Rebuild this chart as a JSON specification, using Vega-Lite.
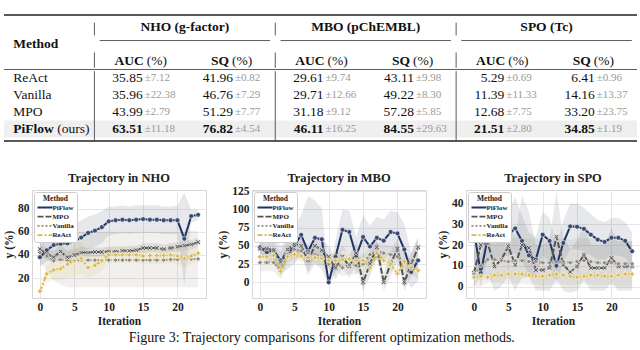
{
  "$schema": "https://vega.github.io/schema/vega-lite/v6.json",
  "background": "white",
  "padding": {"left": 3, "top": 14, "right": 0, "bottom": 0},
  "title": {"text": "Figure 3: Trajectory comparisons for different optimization methods.", "orient": "bottom", "anchor": "middle", "frame": "bounds", "font": "Liberation Serif", "fontSize": 14, "fontWeight": "normal", "color": "#111111", "offset": 3},
  "spacing": 29,
  "datasets": {
    "cells": [
      {"method": "ReAct", "row": 4, "col": 1, "mean": "35.85", "sd": "±7.12"},
      {"method": "ReAct", "row": 4, "col": 2, "mean": "41.96", "sd": "±0.82"},
      {"method": "ReAct", "row": 4, "col": 3, "mean": "29.61", "sd": "±9.74"},
      {"method": "ReAct", "row": 4, "col": 4, "mean": "43.11", "sd": "±9.98"},
      {"method": "ReAct", "row": 4, "col": 5, "mean": "5.29", "sd": "±0.69"},
      {"method": "ReAct", "row": 4, "col": 6, "mean": "6.41", "sd": "±0.96"},
      {"method": "Vanilla", "row": 5, "col": 1, "mean": "35.96", "sd": "±22.38"},
      {"method": "Vanilla", "row": 5, "col": 2, "mean": "46.76", "sd": "±7.29"},
      {"method": "Vanilla", "row": 5, "col": 3, "mean": "29.71", "sd": "±12.66"},
      {"method": "Vanilla", "row": 5, "col": 4, "mean": "49.22", "sd": "±8.30"},
      {"method": "Vanilla", "row": 5, "col": 5, "mean": "11.39", "sd": "±11.33"},
      {"method": "Vanilla", "row": 5, "col": 6, "mean": "14.16", "sd": "±13.37"},
      {"method": "MPO", "row": 6, "col": 1, "mean": "43.99", "sd": "±2.79"},
      {"method": "MPO", "row": 6, "col": 2, "mean": "51.29", "sd": "±7.77"},
      {"method": "MPO", "row": 6, "col": 3, "mean": "31.18", "sd": "±9.12"},
      {"method": "MPO", "row": 6, "col": 4, "mean": "57.28", "sd": "±5.85"},
      {"method": "MPO", "row": 6, "col": 5, "mean": "12.68", "sd": "±7.75"},
      {"method": "MPO", "row": 6, "col": 6, "mean": "33.20", "sd": "±23.75"},
      {"method": "PiFlow", "row": 7, "col": 1, "mean": "63.51", "sd": "±11.18"},
      {"method": "PiFlow", "row": 7, "col": 2, "mean": "76.82", "sd": "±4.54"},
      {"method": "PiFlow", "row": 7, "col": 3, "mean": "46.11", "sd": "±16.25"},
      {"method": "PiFlow", "row": 7, "col": 4, "mean": "84.55", "sd": "±29.63"},
      {"method": "PiFlow", "row": 7, "col": 5, "mean": "21.51", "sd": "±2.80"},
      {"method": "PiFlow", "row": 7, "col": 6, "mean": "34.85", "sd": "±1.19"}
    ],
    "rows": [
      {"method": "ReAct", "row": 4, "col": 0},
      {"method": "Vanilla", "row": 5, "col": 0},
      {"method": "MPO", "row": 6, "col": 0},
      {"method": "PiFlow", "row": 7, "col": 0}
    ],
    "groups": [
      {"g": "NHO (g-factor)", "c1": 1, "c2": 2},
      {"g": "MBO (pChEMBL)", "c1": 3, "c2": 4},
      {"g": "SPO (Tc)", "c1": 5, "c2": 6}
    ],
    "metrics": [
      {"metric": "AUC", "col": 1}, {"metric": "SQ", "col": 2},
      {"metric": "AUC", "col": 3}, {"metric": "SQ", "col": 4},
      {"metric": "AUC", "col": 5}, {"metric": "SQ", "col": 6}
    ],
    "seps": [{"col": 0}, {"col": 2}, {"col": 4}],
    "traj": [
      {"p":"NHO","m":"PiFlow","i":0,"v":38,"lo":30,"hi":46},
      {"p":"NHO","m":"PiFlow","i":1,"v":44,"lo":34,"hi":56},
      {"p":"NHO","m":"PiFlow","i":2,"v":48.5,"lo":36,"hi":62},
      {"p":"NHO","m":"PiFlow","i":3,"v":49.6,"lo":37,"hi":63},
      {"p":"NHO","m":"PiFlow","i":4,"v":50,"lo":37,"hi":64},
      {"p":"NHO","m":"PiFlow","i":5,"v":52,"lo":38,"hi":67},
      {"p":"NHO","m":"PiFlow","i":6,"v":55,"lo":40,"hi":70},
      {"p":"NHO","m":"PiFlow","i":7,"v":59,"lo":45,"hi":73},
      {"p":"NHO","m":"PiFlow","i":8,"v":61,"lo":47,"hi":75},
      {"p":"NHO","m":"PiFlow","i":9,"v":64,"lo":50,"hi":78},
      {"p":"NHO","m":"PiFlow","i":10,"v":69,"lo":57,"hi":82},
      {"p":"NHO","m":"PiFlow","i":11,"v":70,"lo":58,"hi":82},
      {"p":"NHO","m":"PiFlow","i":12,"v":70.5,"lo":59,"hi":83},
      {"p":"NHO","m":"PiFlow","i":13,"v":70,"lo":58,"hi":82},
      {"p":"NHO","m":"PiFlow","i":14,"v":70.5,"lo":59,"hi":83},
      {"p":"NHO","m":"PiFlow","i":15,"v":71,"lo":59,"hi":83},
      {"p":"NHO","m":"PiFlow","i":16,"v":70.5,"lo":59,"hi":83},
      {"p":"NHO","m":"PiFlow","i":17,"v":70.5,"lo":59,"hi":83},
      {"p":"NHO","m":"PiFlow","i":18,"v":70,"lo":58,"hi":82},
      {"p":"NHO","m":"PiFlow","i":19,"v":70,"lo":58,"hi":82},
      {"p":"NHO","m":"PiFlow","i":20,"v":70,"lo":58,"hi":83},
      {"p":"NHO","m":"PiFlow","i":21,"v":54,"lo":14,"hi":94},
      {"p":"NHO","m":"PiFlow","i":22,"v":73.6,"lo":68,"hi":79},
      {"p":"NHO","m":"PiFlow","i":23,"v":74.7,"lo":70,"hi":79},
      {"p":"NHO","m":"MPO","i":0,"v":45,"lo":38,"hi":52},
      {"p":"NHO","m":"MPO","i":1,"v":41,"lo":36,"hi":46},
      {"p":"NHO","m":"MPO","i":2,"v":38,"lo":33,"hi":43},
      {"p":"NHO","m":"MPO","i":3,"v":43,"lo":37,"hi":49},
      {"p":"NHO","m":"MPO","i":4,"v":38,"lo":33,"hi":43},
      {"p":"NHO","m":"MPO","i":5,"v":40,"lo":35,"hi":45},
      {"p":"NHO","m":"MPO","i":6,"v":42,"lo":37,"hi":47},
      {"p":"NHO","m":"MPO","i":7,"v":42,"lo":38,"hi":46},
      {"p":"NHO","m":"MPO","i":8,"v":42.5,"lo":38.5,"hi":46.5},
      {"p":"NHO","m":"MPO","i":9,"v":42.5,"lo":38.5,"hi":46.5},
      {"p":"NHO","m":"MPO","i":10,"v":43,"lo":39,"hi":47},
      {"p":"NHO","m":"MPO","i":11,"v":43,"lo":39,"hi":47},
      {"p":"NHO","m":"MPO","i":12,"v":43.5,"lo":39.5,"hi":47.5},
      {"p":"NHO","m":"MPO","i":13,"v":43.5,"lo":39.5,"hi":47.5},
      {"p":"NHO","m":"MPO","i":14,"v":44,"lo":40,"hi":48},
      {"p":"NHO","m":"MPO","i":15,"v":46,"lo":42,"hi":50},
      {"p":"NHO","m":"MPO","i":16,"v":46,"lo":42,"hi":50},
      {"p":"NHO","m":"MPO","i":17,"v":46,"lo":42,"hi":50},
      {"p":"NHO","m":"MPO","i":18,"v":45,"lo":41,"hi":49},
      {"p":"NHO","m":"MPO","i":19,"v":46,"lo":42,"hi":50},
      {"p":"NHO","m":"MPO","i":20,"v":47,"lo":43,"hi":51},
      {"p":"NHO","m":"MPO","i":21,"v":48,"lo":44,"hi":52},
      {"p":"NHO","m":"MPO","i":22,"v":49,"lo":45,"hi":53},
      {"p":"NHO","m":"MPO","i":23,"v":51,"lo":47,"hi":55},
      {"p":"NHO","m":"Vanilla","i":0,"v":42,"lo":34,"hi":50},
      {"p":"NHO","m":"Vanilla","i":1,"v":39,"lo":26,"hi":52},
      {"p":"NHO","m":"Vanilla","i":2,"v":35,"lo":18,"hi":54},
      {"p":"NHO","m":"Vanilla","i":3,"v":36,"lo":14,"hi":58},
      {"p":"NHO","m":"Vanilla","i":4,"v":35,"lo":12,"hi":60},
      {"p":"NHO","m":"Vanilla","i":5,"v":35,"lo":12,"hi":60},
      {"p":"NHO","m":"Vanilla","i":6,"v":35.5,"lo":12,"hi":60},
      {"p":"NHO","m":"Vanilla","i":7,"v":35.5,"lo":12,"hi":60},
      {"p":"NHO","m":"Vanilla","i":8,"v":35.5,"lo":12,"hi":60},
      {"p":"NHO","m":"Vanilla","i":9,"v":35.5,"lo":12,"hi":60},
      {"p":"NHO","m":"Vanilla","i":10,"v":35.5,"lo":12,"hi":60},
      {"p":"NHO","m":"Vanilla","i":11,"v":35.5,"lo":12,"hi":60},
      {"p":"NHO","m":"Vanilla","i":12,"v":35.5,"lo":12,"hi":60},
      {"p":"NHO","m":"Vanilla","i":13,"v":35.5,"lo":12,"hi":60},
      {"p":"NHO","m":"Vanilla","i":14,"v":35.5,"lo":12,"hi":60},
      {"p":"NHO","m":"Vanilla","i":15,"v":35.5,"lo":12,"hi":60},
      {"p":"NHO","m":"Vanilla","i":16,"v":35.5,"lo":12,"hi":60},
      {"p":"NHO","m":"Vanilla","i":17,"v":35.5,"lo":12,"hi":60},
      {"p":"NHO","m":"Vanilla","i":18,"v":35.5,"lo":12,"hi":60},
      {"p":"NHO","m":"Vanilla","i":19,"v":36,"lo":12,"hi":60},
      {"p":"NHO","m":"Vanilla","i":20,"v":36,"lo":12,"hi":60},
      {"p":"NHO","m":"Vanilla","i":21,"v":36,"lo":12,"hi":60},
      {"p":"NHO","m":"Vanilla","i":22,"v":36.5,"lo":12,"hi":61},
      {"p":"NHO","m":"Vanilla","i":23,"v":36.5,"lo":12,"hi":61},
      {"p":"NHO","m":"ReAct","i":0,"v":8.5,"lo":5,"hi":12},
      {"p":"NHO","m":"ReAct","i":1,"v":23.6,"lo":16,"hi":31},
      {"p":"NHO","m":"ReAct","i":2,"v":27,"lo":18,"hi":36},
      {"p":"NHO","m":"ReAct","i":3,"v":28,"lo":18,"hi":38},
      {"p":"NHO","m":"ReAct","i":4,"v":32,"lo":20,"hi":44},
      {"p":"NHO","m":"ReAct","i":5,"v":35,"lo":22,"hi":48},
      {"p":"NHO","m":"ReAct","i":6,"v":37,"lo":24,"hi":52},
      {"p":"NHO","m":"ReAct","i":7,"v":29,"lo":20,"hi":40},
      {"p":"NHO","m":"ReAct","i":8,"v":31,"lo":22,"hi":40},
      {"p":"NHO","m":"ReAct","i":9,"v":35,"lo":26,"hi":44},
      {"p":"NHO","m":"ReAct","i":10,"v":40,"lo":33,"hi":47},
      {"p":"NHO","m":"ReAct","i":11,"v":40,"lo":33,"hi":47},
      {"p":"NHO","m":"ReAct","i":12,"v":40,"lo":33,"hi":47},
      {"p":"NHO","m":"ReAct","i":13,"v":40,"lo":33,"hi":47},
      {"p":"NHO","m":"ReAct","i":14,"v":40,"lo":33,"hi":47},
      {"p":"NHO","m":"ReAct","i":15,"v":39,"lo":32,"hi":46},
      {"p":"NHO","m":"ReAct","i":16,"v":39.5,"lo":32,"hi":47},
      {"p":"NHO","m":"ReAct","i":17,"v":39.5,"lo":32,"hi":47},
      {"p":"NHO","m":"ReAct","i":18,"v":39.5,"lo":32,"hi":47},
      {"p":"NHO","m":"ReAct","i":19,"v":40,"lo":33,"hi":47},
      {"p":"NHO","m":"ReAct","i":20,"v":39,"lo":32,"hi":46},
      {"p":"NHO","m":"ReAct","i":21,"v":37,"lo":30,"hi":44},
      {"p":"NHO","m":"ReAct","i":22,"v":39,"lo":32,"hi":46},
      {"p":"NHO","m":"ReAct","i":23,"v":41.5,"lo":34,"hi":49},
      {"p":"MBO","m":"PiFlow","i":0,"v":48,"lo":40,"hi":56},
      {"p":"MBO","m":"PiFlow","i":1,"v":41,"lo":30,"hi":52},
      {"p":"MBO","m":"PiFlow","i":2,"v":44,"lo":26,"hi":62},
      {"p":"MBO","m":"PiFlow","i":3,"v":30,"lo":10,"hi":50},
      {"p":"MBO","m":"PiFlow","i":4,"v":38,"lo":18,"hi":58},
      {"p":"MBO","m":"PiFlow","i":5,"v":50,"lo":25,"hi":78},
      {"p":"MBO","m":"PiFlow","i":6,"v":65,"lo":40,"hi":92},
      {"p":"MBO","m":"PiFlow","i":7,"v":42,"lo":10,"hi":118},
      {"p":"MBO","m":"PiFlow","i":8,"v":61,"lo":25,"hi":112},
      {"p":"MBO","m":"PiFlow","i":9,"v":59,"lo":18,"hi":102},
      {"p":"MBO","m":"PiFlow","i":10,"v":0,"lo":-5,"hi":5},
      {"p":"MBO","m":"PiFlow","i":11,"v":35,"lo":12,"hi":58},
      {"p":"MBO","m":"PiFlow","i":12,"v":72,"lo":44,"hi":100},
      {"p":"MBO","m":"PiFlow","i":13,"v":69,"lo":40,"hi":98},
      {"p":"MBO","m":"PiFlow","i":14,"v":36,"lo":10,"hi":62},
      {"p":"MBO","m":"PiFlow","i":15,"v":62,"lo":34,"hi":92},
      {"p":"MBO","m":"PiFlow","i":16,"v":49,"lo":22,"hi":78},
      {"p":"MBO","m":"PiFlow","i":17,"v":61,"lo":32,"hi":90},
      {"p":"MBO","m":"PiFlow","i":18,"v":57,"lo":28,"hi":86},
      {"p":"MBO","m":"PiFlow","i":19,"v":69,"lo":42,"hi":98},
      {"p":"MBO","m":"PiFlow","i":20,"v":67,"lo":38,"hi":96},
      {"p":"MBO","m":"PiFlow","i":21,"v":45,"lo":12,"hi":80},
      {"p":"MBO","m":"PiFlow","i":22,"v":14,"lo":-8,"hi":40},
      {"p":"MBO","m":"PiFlow","i":23,"v":30,"lo":2,"hi":60},
      {"p":"MBO","m":"MPO","i":0,"v":46,"lo":38,"hi":54},
      {"p":"MBO","m":"MPO","i":1,"v":46,"lo":38,"hi":54},
      {"p":"MBO","m":"MPO","i":2,"v":44,"lo":34,"hi":54},
      {"p":"MBO","m":"MPO","i":3,"v":28,"lo":12,"hi":42},
      {"p":"MBO","m":"MPO","i":4,"v":45,"lo":32,"hi":58},
      {"p":"MBO","m":"MPO","i":5,"v":52,"lo":40,"hi":64},
      {"p":"MBO","m":"MPO","i":6,"v":50,"lo":38,"hi":62},
      {"p":"MBO","m":"MPO","i":7,"v":30,"lo":14,"hi":46},
      {"p":"MBO","m":"MPO","i":8,"v":50,"lo":36,"hi":64},
      {"p":"MBO","m":"MPO","i":9,"v":44,"lo":30,"hi":58},
      {"p":"MBO","m":"MPO","i":10,"v":35,"lo":20,"hi":50},
      {"p":"MBO","m":"MPO","i":11,"v":20,"lo":4,"hi":36},
      {"p":"MBO","m":"MPO","i":12,"v":35,"lo":20,"hi":50},
      {"p":"MBO","m":"MPO","i":13,"v":22,"lo":6,"hi":38},
      {"p":"MBO","m":"MPO","i":14,"v":40,"lo":24,"hi":56},
      {"p":"MBO","m":"MPO","i":15,"v":0,"lo":-12,"hi":12},
      {"p":"MBO","m":"MPO","i":16,"v":25,"lo":8,"hi":42},
      {"p":"MBO","m":"MPO","i":17,"v":48,"lo":34,"hi":62},
      {"p":"MBO","m":"MPO","i":18,"v":0,"lo":-12,"hi":12},
      {"p":"MBO","m":"MPO","i":19,"v":25,"lo":8,"hi":42},
      {"p":"MBO","m":"MPO","i":20,"v":46,"lo":32,"hi":60},
      {"p":"MBO","m":"MPO","i":21,"v":0,"lo":-12,"hi":12},
      {"p":"MBO","m":"MPO","i":22,"v":25,"lo":8,"hi":42},
      {"p":"MBO","m":"MPO","i":23,"v":48,"lo":34,"hi":62},
      {"p":"MBO","m":"Vanilla","i":0,"v":27,"lo":15,"hi":39},
      {"p":"MBO","m":"Vanilla","i":1,"v":27,"lo":15,"hi":39},
      {"p":"MBO","m":"Vanilla","i":2,"v":27,"lo":15,"hi":39},
      {"p":"MBO","m":"Vanilla","i":3,"v":17,"lo":5,"hi":29},
      {"p":"MBO","m":"Vanilla","i":4,"v":38,"lo":26,"hi":50},
      {"p":"MBO","m":"Vanilla","i":5,"v":45,"lo":33,"hi":57},
      {"p":"MBO","m":"Vanilla","i":6,"v":43,"lo":31,"hi":55},
      {"p":"MBO","m":"Vanilla","i":7,"v":40,"lo":28,"hi":52},
      {"p":"MBO","m":"Vanilla","i":8,"v":38,"lo":26,"hi":50},
      {"p":"MBO","m":"Vanilla","i":9,"v":36,"lo":24,"hi":48},
      {"p":"MBO","m":"Vanilla","i":10,"v":25,"lo":13,"hi":37},
      {"p":"MBO","m":"Vanilla","i":11,"v":28,"lo":16,"hi":40},
      {"p":"MBO","m":"Vanilla","i":12,"v":20,"lo":8,"hi":32},
      {"p":"MBO","m":"Vanilla","i":13,"v":24,"lo":12,"hi":36},
      {"p":"MBO","m":"Vanilla","i":14,"v":23,"lo":11,"hi":35},
      {"p":"MBO","m":"Vanilla","i":15,"v":25,"lo":13,"hi":37},
      {"p":"MBO","m":"Vanilla","i":16,"v":38,"lo":26,"hi":50},
      {"p":"MBO","m":"Vanilla","i":17,"v":42,"lo":30,"hi":54},
      {"p":"MBO","m":"Vanilla","i":18,"v":40,"lo":28,"hi":52},
      {"p":"MBO","m":"Vanilla","i":19,"v":38,"lo":26,"hi":50},
      {"p":"MBO","m":"Vanilla","i":20,"v":35,"lo":23,"hi":47},
      {"p":"MBO","m":"Vanilla","i":21,"v":30,"lo":18,"hi":42},
      {"p":"MBO","m":"Vanilla","i":22,"v":22,"lo":10,"hi":34},
      {"p":"MBO","m":"Vanilla","i":23,"v":17,"lo":5,"hi":29},
      {"p":"MBO","m":"ReAct","i":0,"v":35,"lo":26,"hi":44},
      {"p":"MBO","m":"ReAct","i":1,"v":35,"lo":26,"hi":44},
      {"p":"MBO","m":"ReAct","i":2,"v":37,"lo":28,"hi":46},
      {"p":"MBO","m":"ReAct","i":3,"v":15,"lo":6,"hi":24},
      {"p":"MBO","m":"ReAct","i":4,"v":35,"lo":26,"hi":44},
      {"p":"MBO","m":"ReAct","i":5,"v":38,"lo":29,"hi":47},
      {"p":"MBO","m":"ReAct","i":6,"v":36,"lo":27,"hi":45},
      {"p":"MBO","m":"ReAct","i":7,"v":34,"lo":25,"hi":43},
      {"p":"MBO","m":"ReAct","i":8,"v":34,"lo":25,"hi":43},
      {"p":"MBO","m":"ReAct","i":9,"v":33,"lo":24,"hi":42},
      {"p":"MBO","m":"ReAct","i":10,"v":30,"lo":21,"hi":39},
      {"p":"MBO","m":"ReAct","i":11,"v":30,"lo":21,"hi":39},
      {"p":"MBO","m":"ReAct","i":12,"v":31,"lo":22,"hi":40},
      {"p":"MBO","m":"ReAct","i":13,"v":32,"lo":23,"hi":41},
      {"p":"MBO","m":"ReAct","i":14,"v":30,"lo":21,"hi":39},
      {"p":"MBO","m":"ReAct","i":15,"v":30,"lo":21,"hi":39},
      {"p":"MBO","m":"ReAct","i":16,"v":20,"lo":11,"hi":29},
      {"p":"MBO","m":"ReAct","i":17,"v":40,"lo":31,"hi":49},
      {"p":"MBO","m":"ReAct","i":18,"v":30,"lo":21,"hi":39},
      {"p":"MBO","m":"ReAct","i":19,"v":25,"lo":16,"hi":34},
      {"p":"MBO","m":"ReAct","i":20,"v":12,"lo":3,"hi":21},
      {"p":"MBO","m":"ReAct","i":21,"v":28,"lo":19,"hi":37},
      {"p":"MBO","m":"ReAct","i":22,"v":20,"lo":11,"hi":29},
      {"p":"MBO","m":"ReAct","i":23,"v":16,"lo":7,"hi":25},
      {"p":"SPO","m":"PiFlow","i":0,"v":27,"lo":15,"hi":40},
      {"p":"SPO","m":"PiFlow","i":1,"v":6.5,"lo":0,"hi":14},
      {"p":"SPO","m":"PiFlow","i":2,"v":23.5,"lo":14,"hi":33},
      {"p":"SPO","m":"PiFlow","i":3,"v":22,"lo":13,"hi":31},
      {"p":"SPO","m":"PiFlow","i":4,"v":23.5,"lo":14,"hi":33},
      {"p":"SPO","m":"PiFlow","i":5,"v":25,"lo":15,"hi":36},
      {"p":"SPO","m":"PiFlow","i":6,"v":28,"lo":16,"hi":43},
      {"p":"SPO","m":"PiFlow","i":7,"v":22,"lo":12,"hi":34},
      {"p":"SPO","m":"PiFlow","i":8,"v":15,"lo":6,"hi":26},
      {"p":"SPO","m":"PiFlow","i":9,"v":13,"lo":4,"hi":24},
      {"p":"SPO","m":"PiFlow","i":10,"v":25,"lo":15,"hi":36},
      {"p":"SPO","m":"PiFlow","i":11,"v":22,"lo":12,"hi":33},
      {"p":"SPO","m":"PiFlow","i":12,"v":10,"lo":2,"hi":20},
      {"p":"SPO","m":"PiFlow","i":13,"v":21,"lo":12,"hi":32},
      {"p":"SPO","m":"PiFlow","i":14,"v":29,"lo":18,"hi":40},
      {"p":"SPO","m":"PiFlow","i":15,"v":28.8,"lo":18,"hi":40},
      {"p":"SPO","m":"PiFlow","i":16,"v":27.8,"lo":17,"hi":38},
      {"p":"SPO","m":"PiFlow","i":17,"v":25,"lo":15,"hi":35},
      {"p":"SPO","m":"PiFlow","i":18,"v":22.6,"lo":13,"hi":32},
      {"p":"SPO","m":"PiFlow","i":19,"v":21.5,"lo":13,"hi":31},
      {"p":"SPO","m":"PiFlow","i":20,"v":23.5,"lo":15,"hi":33},
      {"p":"SPO","m":"PiFlow","i":21,"v":23.5,"lo":15,"hi":33},
      {"p":"SPO","m":"PiFlow","i":22,"v":22,"lo":14,"hi":31},
      {"p":"SPO","m":"PiFlow","i":23,"v":17,"lo":9,"hi":26},
      {"p":"SPO","m":"MPO","i":0,"v":6.5,"lo":0,"hi":14},
      {"p":"SPO","m":"MPO","i":1,"v":20,"lo":5,"hi":36},
      {"p":"SPO","m":"MPO","i":2,"v":21,"lo":6,"hi":38},
      {"p":"SPO","m":"MPO","i":3,"v":9.7,"lo":-2,"hi":22},
      {"p":"SPO","m":"MPO","i":4,"v":13,"lo":0,"hi":28},
      {"p":"SPO","m":"MPO","i":5,"v":19.4,"lo":5,"hi":36},
      {"p":"SPO","m":"MPO","i":6,"v":10.5,"lo":-2,"hi":24},
      {"p":"SPO","m":"MPO","i":7,"v":20,"lo":4,"hi":44},
      {"p":"SPO","m":"MPO","i":8,"v":18.6,"lo":5,"hi":36},
      {"p":"SPO","m":"MPO","i":9,"v":8,"lo":-2,"hi":20},
      {"p":"SPO","m":"MPO","i":10,"v":8,"lo":-2,"hi":20},
      {"p":"SPO","m":"MPO","i":11,"v":9,"lo":-2,"hi":22},
      {"p":"SPO","m":"MPO","i":12,"v":24,"lo":4,"hi":46},
      {"p":"SPO","m":"MPO","i":13,"v":10.5,"lo":-2,"hi":24},
      {"p":"SPO","m":"MPO","i":14,"v":7,"lo":-3,"hi":18},
      {"p":"SPO","m":"MPO","i":15,"v":9.7,"lo":-2,"hi":22},
      {"p":"SPO","m":"MPO","i":16,"v":15.4,"lo":3,"hi":30},
      {"p":"SPO","m":"MPO","i":17,"v":9,"lo":-2,"hi":20},
      {"p":"SPO","m":"MPO","i":18,"v":9,"lo":-2,"hi":20},
      {"p":"SPO","m":"MPO","i":19,"v":9,"lo":-2,"hi":20},
      {"p":"SPO","m":"MPO","i":20,"v":13.8,"lo":2,"hi":28},
      {"p":"SPO","m":"MPO","i":21,"v":9.7,"lo":-2,"hi":22},
      {"p":"SPO","m":"MPO","i":22,"v":9.7,"lo":-2,"hi":22},
      {"p":"SPO","m":"MPO","i":23,"v":9.7,"lo":-2,"hi":22},
      {"p":"SPO","m":"Vanilla","i":0,"v":6,"lo":0,"hi":17},
      {"p":"SPO","m":"Vanilla","i":1,"v":10,"lo":0,"hi":21},
      {"p":"SPO","m":"Vanilla","i":2,"v":13,"lo":2,"hi":24},
      {"p":"SPO","m":"Vanilla","i":3,"v":13,"lo":2,"hi":24},
      {"p":"SPO","m":"Vanilla","i":4,"v":12.5,"lo":1.5,"hi":23.5},
      {"p":"SPO","m":"Vanilla","i":5,"v":12,"lo":1,"hi":23},
      {"p":"SPO","m":"Vanilla","i":6,"v":12.5,"lo":1.5,"hi":23.5},
      {"p":"SPO","m":"Vanilla","i":7,"v":12.5,"lo":1.5,"hi":23.5},
      {"p":"SPO","m":"Vanilla","i":8,"v":12,"lo":1,"hi":23},
      {"p":"SPO","m":"Vanilla","i":9,"v":12,"lo":1,"hi":23},
      {"p":"SPO","m":"Vanilla","i":10,"v":11.5,"lo":0.5,"hi":22.5},
      {"p":"SPO","m":"Vanilla","i":11,"v":11.5,"lo":0.5,"hi":22.5},
      {"p":"SPO","m":"Vanilla","i":12,"v":12,"lo":1,"hi":23},
      {"p":"SPO","m":"Vanilla","i":13,"v":12,"lo":1,"hi":23},
      {"p":"SPO","m":"Vanilla","i":14,"v":11.5,"lo":0.5,"hi":22.5},
      {"p":"SPO","m":"Vanilla","i":15,"v":12,"lo":1,"hi":23},
      {"p":"SPO","m":"Vanilla","i":16,"v":12.5,"lo":1.5,"hi":23.5},
      {"p":"SPO","m":"Vanilla","i":17,"v":12,"lo":1,"hi":23},
      {"p":"SPO","m":"Vanilla","i":18,"v":11.5,"lo":0.5,"hi":22.5},
      {"p":"SPO","m":"Vanilla","i":19,"v":11.5,"lo":0.5,"hi":22.5},
      {"p":"SPO","m":"Vanilla","i":20,"v":11.5,"lo":0.5,"hi":22.5},
      {"p":"SPO","m":"Vanilla","i":21,"v":11,"lo":0,"hi":22},
      {"p":"SPO","m":"Vanilla","i":22,"v":11,"lo":0,"hi":22},
      {"p":"SPO","m":"Vanilla","i":23,"v":11,"lo":0,"hi":22},
      {"p":"SPO","m":"ReAct","i":0,"v":4.5,"lo":3,"hi":6},
      {"p":"SPO","m":"ReAct","i":1,"v":5,"lo":3.5,"hi":6.5},
      {"p":"SPO","m":"ReAct","i":2,"v":4.5,"lo":3,"hi":6},
      {"p":"SPO","m":"ReAct","i":3,"v":5.5,"lo":4,"hi":7},
      {"p":"SPO","m":"ReAct","i":4,"v":5.5,"lo":4,"hi":7},
      {"p":"SPO","m":"ReAct","i":5,"v":6,"lo":4.5,"hi":7.5},
      {"p":"SPO","m":"ReAct","i":6,"v":6,"lo":4.5,"hi":7.5},
      {"p":"SPO","m":"ReAct","i":7,"v":6,"lo":4.5,"hi":7.5},
      {"p":"SPO","m":"ReAct","i":8,"v":5.5,"lo":4,"hi":7},
      {"p":"SPO","m":"ReAct","i":9,"v":5,"lo":3.5,"hi":6.5},
      {"p":"SPO","m":"ReAct","i":10,"v":5,"lo":3.5,"hi":6.5},
      {"p":"SPO","m":"ReAct","i":11,"v":5.5,"lo":4,"hi":7},
      {"p":"SPO","m":"ReAct","i":12,"v":6,"lo":4.5,"hi":7.5},
      {"p":"SPO","m":"ReAct","i":13,"v":5.5,"lo":4,"hi":7},
      {"p":"SPO","m":"ReAct","i":14,"v":5,"lo":3.5,"hi":6.5},
      {"p":"SPO","m":"ReAct","i":15,"v":4.5,"lo":3,"hi":6},
      {"p":"SPO","m":"ReAct","i":16,"v":5,"lo":3.5,"hi":6.5},
      {"p":"SPO","m":"ReAct","i":17,"v":5.5,"lo":4,"hi":7},
      {"p":"SPO","m":"ReAct","i":18,"v":5.5,"lo":4,"hi":7},
      {"p":"SPO","m":"ReAct","i":19,"v":5,"lo":3.5,"hi":6.5},
      {"p":"SPO","m":"ReAct","i":20,"v":5,"lo":3.5,"hi":6.5},
      {"p":"SPO","m":"ReAct","i":21,"v":5.5,"lo":4,"hi":7},
      {"p":"SPO","m":"ReAct","i":22,"v":6,"lo":4.5,"hi":7.5},
      {"p":"SPO","m":"ReAct","i":23,"v":6,"lo":4.5,"hi":7.5}
    ]
  },
  "vconcat": [
    {
      "width": 605,
      "height": 126,
      "view": {"stroke": null},
      "layer": [
        {
          "data": {"values": [{}]},
          "mark": {"type": "rect", "color": "#efefef"},
          "encoding": {
            "x": {"datum": -0.5, "type": "quantitative", "scale": {"domain": [-0.5, 6.5], "range": [-28, 605], "nice": false, "zero": false}, "axis": null},
            "x2": {"datum": 6.5},
            "y": {"datum": 6.5, "type": "quantitative", "scale": {"domain": [0.3, 7.7], "nice": false, "zero": false, "reverse": true}, "axis": null},
            "y2": {"datum": 7.5}
          }
        },
        {
          "data": {"values": [{}]},
          "mark": {"type": "rule", "color": "#222222", "strokeWidth": 1.6},
          "encoding": {"x": {"datum": -0.5, "type": "quantitative"}, "x2": {"datum": 6.5}, "y": {"datum": 0.3, "type": "quantitative"}}
        },
        {
          "data": {"values": [{}]},
          "mark": {"type": "rule", "color": "#222222", "strokeWidth": 1.6},
          "encoding": {"x": {"datum": -0.5, "type": "quantitative"}, "x2": {"datum": 6.5}, "y": {"datum": 7.7, "type": "quantitative"}}
        },
        {
          "data": {"values": [{}]},
          "mark": {"type": "rule", "color": "#333333", "strokeWidth": 0.8},
          "encoding": {"x": {"datum": -0.5, "type": "quantitative"}, "x2": {"datum": 6.5}, "y": {"datum": 3.5, "type": "quantitative"}}
        },
        {
          "data": {"name": "groups"},
          "mark": {"type": "rule", "color": "#333333", "strokeWidth": 0.8, "xOffset": -40, "x2Offset": 40},
          "encoding": {
            "x": {"field": "c1", "type": "quantitative"},
            "x2": {"field": "c2"},
            "y": {"datum": 1.8, "type": "quantitative"}
          }
        },
        {
          "data": {"name": "seps"},
          "mark": {"type": "rule", "color": "#333333", "strokeWidth": 0.8, "xOffset": 45.2},
          "encoding": {"x": {"field": "col", "type": "quantitative"}, "y": {"datum": 0.75, "type": "quantitative"}, "y2": {"datum": 1.5}}
        },
        {
          "data": {"name": "seps"},
          "mark": {"type": "rule", "color": "#333333", "strokeWidth": 0.8, "xOffset": 45.2},
          "encoding": {"x": {"field": "col", "type": "quantitative"}, "y": {"datum": 2.5, "type": "quantitative"}, "y2": {"datum": 3.4}}
        },
        {
          "data": {"name": "seps"},
          "mark": {"type": "rule", "color": "#333333", "strokeWidth": 0.8, "xOffset": 45.2},
          "encoding": {"x": {"field": "col", "type": "quantitative"}, "y": {"datum": 3.6, "type": "quantitative"}, "y2": {"datum": 7.7}}
        },
        {
          "data": {"values": [{"label": "Method"}]},
          "mark": {"type": "text", "font": "Liberation Serif", "fontSize": 13.5, "fontWeight": "bold", "align": "left", "baseline": "middle", "dx": -36, "color": "#111111"},
          "encoding": {"x": {"datum": 0, "type": "quantitative"}, "y": {"datum": 2, "type": "quantitative"}, "text": {"field": "label"}}
        },
        {
          "data": {"name": "groups"},
          "mark": {"type": "text", "font": "Liberation Serif", "fontSize": 13.5, "fontWeight": "bold", "align": "center", "baseline": "middle", "dx": 45.2, "color": "#111111"},
          "encoding": {"x": {"field": "c1", "type": "quantitative"}, "y": {"datum": 1, "type": "quantitative"}, "text": {"field": "g"}}
        },
        {
          "data": {"name": "metrics"},
          "transform": [{"filter": "datum.metric === 'AUC'"}],
          "mark": {"type": "text", "font": "Liberation Serif", "fontSize": 13.5, "fontWeight": "bold", "align": "right", "baseline": "middle", "dx": 4, "color": "#111111"},
          "encoding": {"x": {"field": "col", "type": "quantitative"}, "y": {"datum": 3, "type": "quantitative"}, "text": {"field": "metric"}}
        },
        {
          "data": {"name": "metrics"},
          "transform": [{"filter": "datum.metric === 'AUC'"}],
          "mark": {"type": "text", "font": "Liberation Serif", "fontSize": 13.5, "align": "left", "baseline": "middle", "dx": 7, "color": "#111111", "text": "(%)"},
          "encoding": {"x": {"field": "col", "type": "quantitative"}, "y": {"datum": 3, "type": "quantitative"}}
        },
        {
          "data": {"name": "metrics"},
          "transform": [{"filter": "datum.metric === 'SQ'"}],
          "mark": {"type": "text", "font": "Liberation Serif", "fontSize": 13.5, "fontWeight": "bold", "align": "right", "baseline": "middle", "dx": -1, "color": "#111111"},
          "encoding": {"x": {"field": "col", "type": "quantitative"}, "y": {"datum": 3, "type": "quantitative"}, "text": {"field": "metric"}}
        },
        {
          "data": {"name": "metrics"},
          "transform": [{"filter": "datum.metric === 'SQ'"}],
          "mark": {"type": "text", "font": "Liberation Serif", "fontSize": 13.5, "align": "left", "baseline": "middle", "dx": 2, "color": "#111111", "text": "(%)"},
          "encoding": {"x": {"field": "col", "type": "quantitative"}, "y": {"datum": 3, "type": "quantitative"}}
        },
        {
          "data": {"name": "rows"},
          "transform": [{"filter": "datum.method !== 'PiFlow'"}],
          "mark": {"type": "text", "font": "Liberation Serif", "fontSize": 13.5, "align": "left", "baseline": "middle", "dx": -36, "color": "#111111"},
          "encoding": {"x": {"field": "col", "type": "quantitative"}, "y": {"field": "row", "type": "quantitative"}, "text": {"field": "method"}}
        },
        {
          "data": {"name": "rows"},
          "transform": [{"filter": "datum.method === 'PiFlow'"}],
          "mark": {"type": "text", "font": "Liberation Serif", "fontSize": 13.5, "fontWeight": "bold", "align": "left", "baseline": "middle", "dx": -36, "color": "#111111"},
          "encoding": {"x": {"field": "col", "type": "quantitative"}, "y": {"field": "row", "type": "quantitative"}, "text": {"field": "method"}}
        },
        {
          "data": {"name": "rows"},
          "transform": [{"filter": "datum.method === 'PiFlow'"}],
          "mark": {"type": "text", "font": "Liberation Serif", "fontSize": 13.5, "align": "left", "baseline": "middle", "dx": 8, "color": "#111111", "text": "(ours)"},
          "encoding": {"x": {"field": "col", "type": "quantitative"}, "y": {"field": "row", "type": "quantitative"}}
        },
        {
          "data": {"name": "cells"},
          "transform": [{"filter": "datum.method !== 'PiFlow'"}],
          "mark": {"type": "text", "font": "Liberation Serif", "fontSize": 13.5, "align": "right", "baseline": "middle", "dx": 3, "color": "#111111"},
          "encoding": {"x": {"field": "col", "type": "quantitative"}, "y": {"field": "row", "type": "quantitative"}, "text": {"field": "mean"}}
        },
        {
          "data": {"name": "cells"},
          "transform": [{"filter": "datum.method === 'PiFlow'"}],
          "mark": {"type": "text", "font": "Liberation Serif", "fontSize": 13.5, "fontWeight": "bold", "align": "right", "baseline": "middle", "dx": 3, "color": "#111111"},
          "encoding": {"x": {"field": "col", "type": "quantitative"}, "y": {"field": "row", "type": "quantitative"}, "text": {"field": "mean"}}
        },
        {
          "data": {"name": "cells"},
          "mark": {"type": "text", "font": "Liberation Serif", "fontSize": 11, "align": "left", "baseline": "middle", "dx": 5, "color": "#9a9a9a"},
          "encoding": {"x": {"field": "col", "type": "quantitative"}, "y": {"field": "row", "type": "quantitative"}, "text": {"field": "sd"}}
        }
      ]
    },
    {
      "spacing": 10,
      "resolve": {"scale": {"x": "independent", "y": "independent"}, "legend": {"color": "independent", "strokeDash": "independent"}},
      "hconcat": [
        {
          "width": 174, "height": 108,
          "title": {"text": "Trajectory in NHO", "offset": 6},
          "data": {"name": "traj"},
          "transform": [{"filter": "datum.p === 'NHO'"}],
          "encoding": {"x": {"field": "i", "type": "quantitative", "title": "Iteration", "scale": {"domain": [-1.15, 24.15], "nice": false, "zero": false}, "axis": {"values": [0, 5, 10, 15, 20]}}},
          "layer": [
            {"mark": {"type": "area", "fillOpacity": 0.13}, "encoding": {"y": {"field": "lo", "type": "quantitative", "title": "y (%)", "scale": {"domain": [2.7, 96.2], "nice": false, "zero": false}, "axis": {"values": [20, 40, 60, 80]}}, "y2": {"field": "hi"}, "fill": {"field": "m", "type": "nominal", "scale": {"domain": ["PiFlow", "MPO", "Vanilla", "ReAct"], "range": ["#3a4a70", "#555555", "#8f8b7e", "#d8b84a"]}, "legend": null}}},
            {"mark": {"type": "line", "strokeWidth": 2}, "encoding": {"y": {"field": "v", "type": "quantitative", "title": "y (%)", "axis": {"values": [20, 40, 60, 80]}}, "color": {"field": "m", "type": "nominal", "title": "Method", "scale": {"domain": ["PiFlow", "MPO", "Vanilla", "ReAct"], "range": ["#1f3366", "#555555", "#8f8b7e", "#d8b84a"]}}, "strokeDash": {"field": "m", "type": "nominal", "title": "Method", "scale": {"domain": ["PiFlow", "MPO", "Vanilla", "ReAct"], "range": [[1, 0], [6, 2], [2, 2], [5, 2, 2, 2]]}}}},
            {"mark": {"type": "point", "filled": true, "stroke": "white", "strokeWidth": 0.6, "size": 24, "opacity": 1}, "encoding": {"y": {"field": "v", "type": "quantitative", "title": "y (%)", "axis": {"values": [20, 40, 60, 80]}}, "fill": {"field": "m", "type": "nominal", "legend": null}, "shape": {"field": "m", "type": "nominal", "scale": {"domain": ["PiFlow", "MPO", "Vanilla", "ReAct"], "range": ["circle", "M-1,-0.6L-0.6,-1L0,-0.4L0.6,-1L1,-0.6L0.4,0L1,0.6L0.6,1L0,0.4L-0.6,1L-1,0.6L-0.4,0Z", "diamond", "cross"]}, "legend": null}}}
          ]
        },
        {
          "width": 174, "height": 108,
          "title": {"text": "Trajectory in MBO", "offset": 1},
          "data": {"name": "traj"},
          "transform": [{"filter": "datum.p === 'MBO'"}],
          "encoding": {"x": {"field": "i", "type": "quantitative", "title": "Iteration", "scale": {"domain": [-1.15, 24.15], "nice": false, "zero": false}, "axis": {"values": [0, 5, 10, 15, 20]}}},
          "layer": [
            {"mark": {"type": "area", "fillOpacity": 0.13}, "encoding": {"y": {"field": "lo", "type": "quantitative", "title": "y (%)", "scale": {"domain": [-21.5, 126.5], "nice": false, "zero": false}, "axis": {"values": [0, 25, 50, 75, 100, 125]}}, "y2": {"field": "hi"}, "fill": {"field": "m", "type": "nominal", "scale": {"domain": ["PiFlow", "MPO", "Vanilla", "ReAct"], "range": ["#3a4a70", "#555555", "#8f8b7e", "#d8b84a"]}, "legend": null}}},
            {"mark": {"type": "line", "strokeWidth": 2}, "encoding": {"y": {"field": "v", "type": "quantitative", "title": "y (%)", "axis": {"values": [0, 25, 50, 75, 100, 125]}}, "color": {"field": "m", "type": "nominal", "title": "Method", "scale": {"domain": ["PiFlow", "MPO", "Vanilla", "ReAct"], "range": ["#1f3366", "#555555", "#8f8b7e", "#d8b84a"]}}, "strokeDash": {"field": "m", "type": "nominal", "title": "Method", "scale": {"domain": ["PiFlow", "MPO", "Vanilla", "ReAct"], "range": [[1, 0], [6, 2], [2, 2], [5, 2, 2, 2]]}}}},
            {"mark": {"type": "point", "filled": true, "stroke": "white", "strokeWidth": 0.6, "size": 24, "opacity": 1}, "encoding": {"y": {"field": "v", "type": "quantitative", "title": "y (%)", "axis": {"values": [0, 25, 50, 75, 100, 125]}}, "fill": {"field": "m", "type": "nominal", "legend": null}, "shape": {"field": "m", "type": "nominal", "scale": {"domain": ["PiFlow", "MPO", "Vanilla", "ReAct"], "range": ["circle", "M-1,-0.6L-0.6,-1L0,-0.4L0.6,-1L1,-0.6L0.4,0L1,0.6L0.6,1L0,0.4L-0.6,1L-1,0.6L-0.4,0Z", "diamond", "cross"]}, "legend": null}}}
          ]
        },
        {
          "width": 174, "height": 108,
          "title": {"text": "Trajectory in SPO", "offset": 6},
          "data": {"name": "traj"},
          "transform": [{"filter": "datum.p === 'SPO'"}],
          "encoding": {"x": {"field": "i", "type": "quantitative", "title": "Iteration", "scale": {"domain": [-1.15, 24.15], "nice": false, "zero": false}, "axis": {"values": [0, 5, 10, 15, 20]}}},
          "layer": [
            {"mark": {"type": "area", "fillOpacity": 0.13}, "encoding": {"y": {"field": "lo", "type": "quantitative", "title": "y (%)", "scale": {"domain": [-5.5, 46.5], "nice": false, "zero": false}, "axis": {"values": [0, 10, 20, 30, 40]}}, "y2": {"field": "hi"}, "fill": {"field": "m", "type": "nominal", "scale": {"domain": ["PiFlow", "MPO", "Vanilla", "ReAct"], "range": ["#3a4a70", "#555555", "#8f8b7e", "#d8b84a"]}, "legend": null}}},
            {"mark": {"type": "line", "strokeWidth": 2}, "encoding": {"y": {"field": "v", "type": "quantitative", "title": "y (%)", "axis": {"values": [0, 10, 20, 30, 40]}}, "color": {"field": "m", "type": "nominal", "title": "Method", "scale": {"domain": ["PiFlow", "MPO", "Vanilla", "ReAct"], "range": ["#1f3366", "#555555", "#8f8b7e", "#d8b84a"]}}, "strokeDash": {"field": "m", "type": "nominal", "title": "Method", "scale": {"domain": ["PiFlow", "MPO", "Vanilla", "ReAct"], "range": [[1, 0], [6, 2], [2, 2], [5, 2, 2, 2]]}}}},
            {"mark": {"type": "point", "filled": true, "stroke": "white", "strokeWidth": 0.6, "size": 24, "opacity": 1}, "encoding": {"y": {"field": "v", "type": "quantitative", "title": "y (%)", "axis": {"values": [0, 10, 20, 30, 40]}}, "fill": {"field": "m", "type": "nominal", "legend": null}, "shape": {"field": "m", "type": "nominal", "scale": {"domain": ["PiFlow", "MPO", "Vanilla", "ReAct"], "range": ["circle", "M-1,-0.6L-0.6,-1L0,-0.4L0.6,-1L1,-0.6L0.4,0L1,0.6L0.6,1L0,0.4L-0.6,1L-1,0.6L-0.4,0Z", "diamond", "cross"]}, "legend": null}}}
          ]
        }
      ]
    }
  ],
  "config": {
    "view": {"stroke": "#d6d6d6"},
    "axis": {"labelFont": "Liberation Serif", "labelFontWeight": "bold", "labelFontSize": 11.5, "labelColor": "#222222", "titleFont": "Liberation Serif", "titleFontSize": 11.5, "titleFontWeight": "bold", "titleColor": "#222222", "domain": false, "ticks": false, "grid": true, "gridColor": "#e6e6e6", "labelPadding": 3, "titlePadding": 3, "labelOverlap": false},
    "title": {"font": "Liberation Serif", "fontSize": 12.5, "fontWeight": "bold", "color": "#222222", "offset": 4, "frame": "group"},
    "legend": {"orient": "top-left", "offset": 2, "padding": 2.5, "strokeColor": "#cccccc", "fillColor": "#ffffff", "cornerRadius": 2, "titleFont": "Liberation Serif", "titleFontSize": 7.5, "titleFontWeight": "bold", "titleColor": "#222222", "titleAnchor": "middle", "titlePadding": 1.5, "labelFont": "Liberation Serif", "labelFontSize": 7, "labelFontWeight": "bold", "labelColor": "#222222", "symbolType": "M-1,0H4", "symbolSize": 36, "symbolStrokeWidth": 1.8, "rowPadding": 1.2, "labelOffset": 8}
  }
}
